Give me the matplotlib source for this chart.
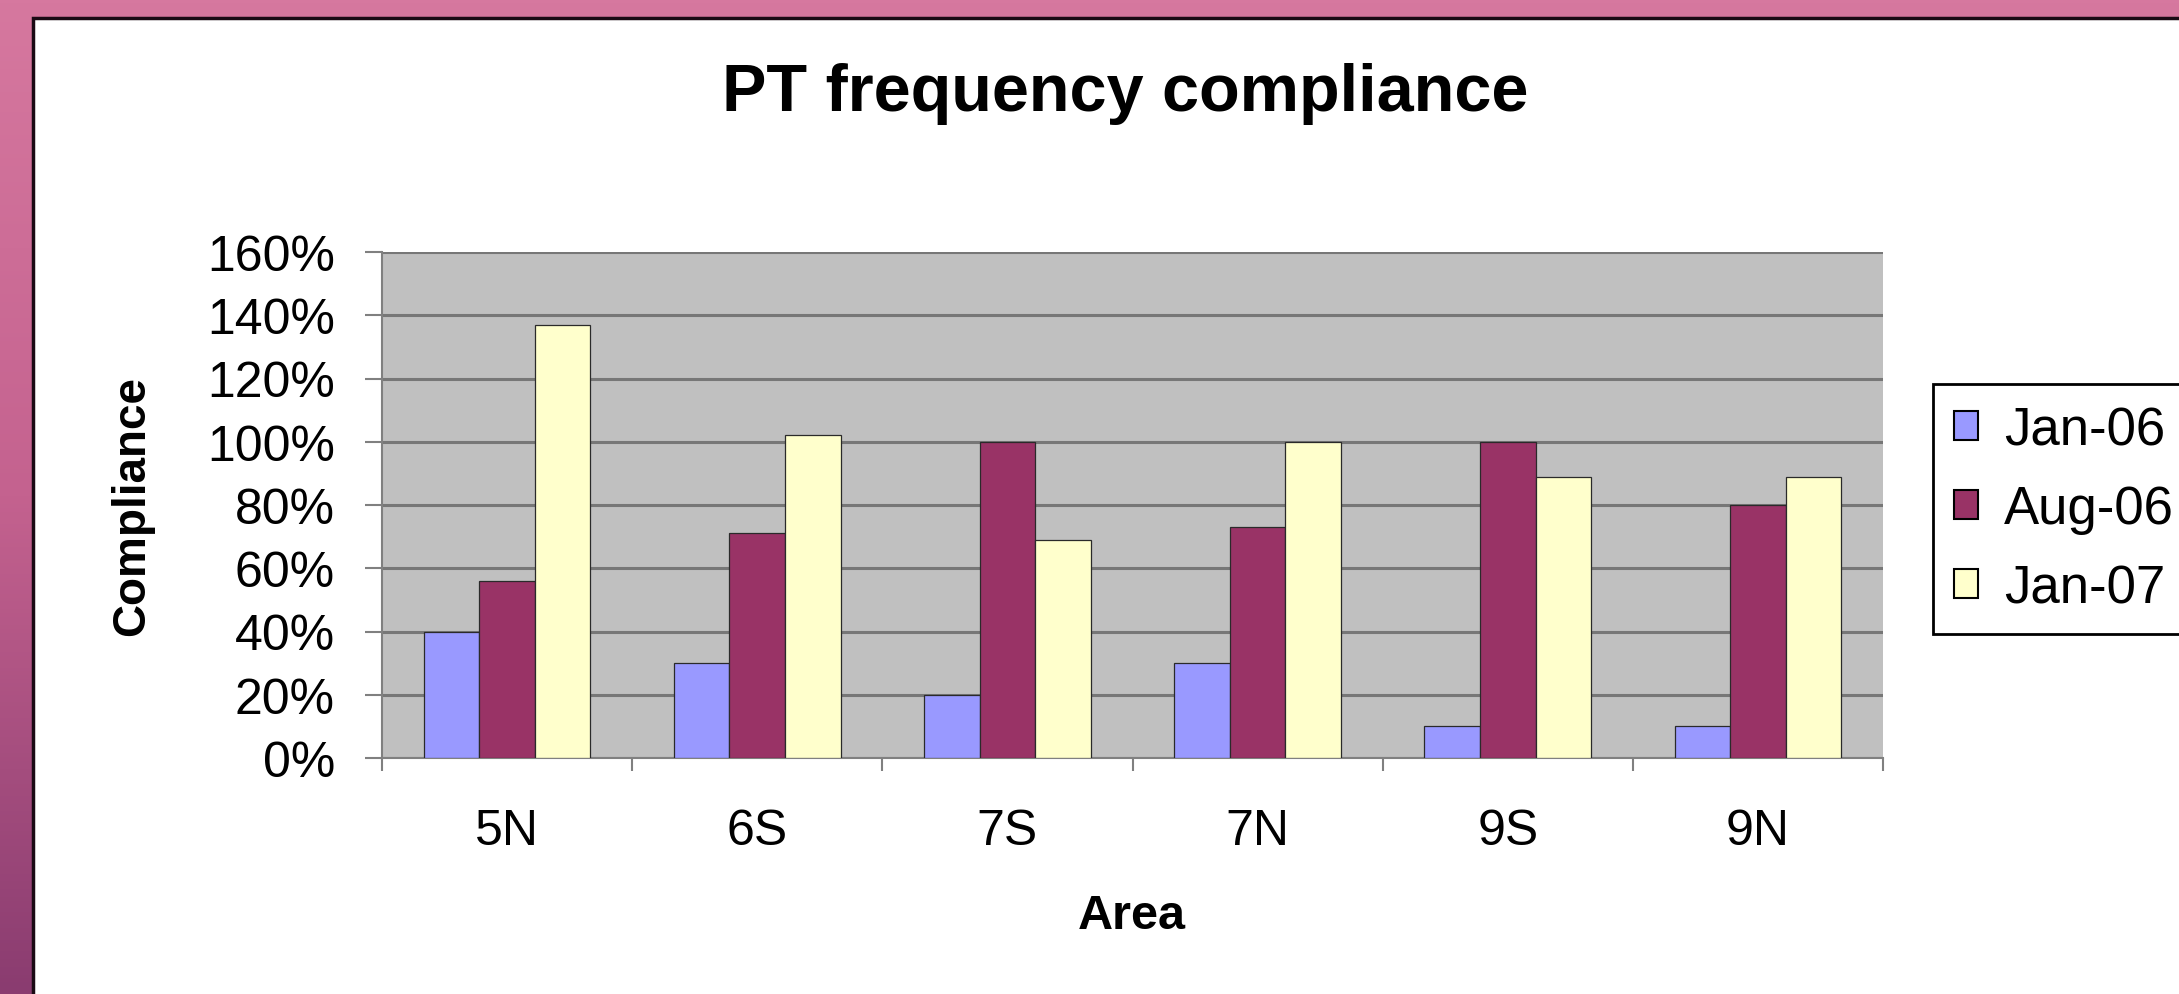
"""PT frequency compliance - grouped bar chart on a pink slide frame."""
import numpy as np
import matplotlib
matplotlib.use("Agg")
import matplotlib.pyplot as plt
from matplotlib.colors import LinearSegmentedColormap

areas = ["5N", "6S", "7S", "7N", "9S", "9N"]
series = ["Jan-06", "Aug-06", "Jan-07"]
jan06 = [40, 30, 20, 30, 10, 10]
aug06 = [56, 71, 100, 73, 100, 80]
jan07 = [137, 102, 69, 100, 89, 89]
yticks = [0, 20, 40, 60, 80, 100, 120, 140, 160]

colors = ["#9999ff", "#993366", "#ffffcc"]
FONT = "Liberation Sans"

W, H = 2179, 995
fig = plt.figure(figsize=(W / 100, H / 100), dpi=100)

# slide background: pink to purple gradient, visible only at top and left edges
bg = fig.add_axes([0, 0, 1, 1])
bg.set_axis_off()
cmap = LinearSegmentedColormap.from_list("slide", ["#d6789f", "#c4628f", "#8a3c70"])
grad = np.linspace(0, 1, 256).reshape(-1, 1)
bg.imshow(grad, cmap=cmap, aspect="auto", extent=[0, 1, 0, 1], origin="upper")
bg.set_xlim(0, 1)
bg.set_ylim(0, 1)
# white chart panel, dark border only on top/left (the rest runs off the picture)
px, py = 33 / W, 1 - 19 / H
bg.add_patch(plt.Rectangle((px, 0), 1.2, py, facecolor="white", edgecolor="none", zorder=2))
bg.plot([px, px, 1], [0, py, py], color="#1a0a14", linewidth=2.5, zorder=3,
        solid_joinstyle="miter")

ax = fig.add_axes([382 / W, 1 - 759 / H, (1883 - 382) / W, (759 - 253) / H])
ax.set_facecolor("#c0c0c0")

x = np.arange(len(areas))
bw = 1 / 4.5
for i, (vals, name) in enumerate(zip([jan06, aug06, jan07], series)):
    ax.bar(x + (i - 1) * bw, vals, bw, color=colors[i], edgecolor="#2a2a2a",
           linewidth=0.9, label=name, zorder=3)

ax.set_xlim(-0.5, len(areas) - 0.5)
ax.set_ylim(0, 160)
ax.set_yticks(yticks)
ax.set_yticklabels([f"{v}%" for v in yticks], fontsize=36, family=FONT)
ax.yaxis.grid(True, color="#777777", linewidth=2.2, zorder=1)
ax.set_axisbelow(True)

ax.set_xticks(x)
ax.set_xticklabels(areas, fontsize=36, family=FONT)
ax.set_xticks(np.arange(-0.5, len(areas)), minor=True)
ax.tick_params(axis="x", which="major", length=0, pad=36)
ax.tick_params(axis="x", which="minor", length=9, width=1.5, color="#808080", direction="out")
ax.tick_params(axis="y", length=12, width=1.5, color="#808080", pad=22)

for side in ("top", "right"):
    ax.spines[side].set_visible(False)
for side in ("left", "bottom"):
    ax.spines[side].set_color("#808080")
    ax.spines[side].set_linewidth(1.5)

fig.text(1125 / W, 1 - 94 / H, "PT frequency compliance", ha="center", va="center",
         fontsize=48, fontweight="bold", family=FONT)
fig.text(132 / W, 1 - 506 / H, "Compliance", ha="center", va="center", rotation=90,
         fontsize=33, fontweight="bold", family=FONT)
fig.text(1132 / W, 1 - 917 / H, "Area", ha="center", va="center",
         fontsize=35, fontweight="bold", family=FONT)

leg = fig.legend(loc="upper left", bbox_to_anchor=(1933 / W, 1 - 385 / H),
                 prop={"family": FONT, "size": 38}, frameon=True, fancybox=False,
                 edgecolor="black", framealpha=1, handlelength=0.45, handleheight=0.48,
                 handletextpad=0.5, labelspacing=0.55, borderpad=0.4,
                 borderaxespad=0)
leg.get_frame().set_linewidth(2)
for h in leg.legend_handles:
    h.set_edgecolor("black")
    h.set_linewidth(1.5)

fig.savefig("out.png", dpi=100)
